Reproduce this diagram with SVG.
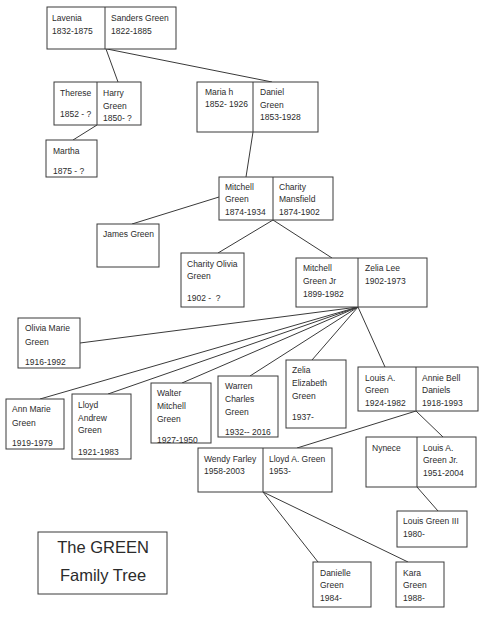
<svg xmlns="http://www.w3.org/2000/svg" width="495" height="629" viewBox="0 0 495 629">
<style>
  .box { fill: #ffffff; stroke: #3a3a3a; stroke-width: 1; }
  .div { stroke: #3a3a3a; stroke-width: 1; }
  .t { font-family: "Liberation Sans", Arial, sans-serif; font-size: 8.5px; fill: #2b2b2b; white-space: pre; }
  .title { font-family: "Liberation Sans", Arial, sans-serif; font-size: 16.5px; fill: #2b2b2b; text-anchor: middle; }
  .conn line { stroke: #3a3a3a; stroke-width: 1; }
</style>
<rect x="0" y="0" width="495" height="629" fill="#ffffff"/>
<g id="connectors" class="conn">
  <line x1="106" y1="49" x2="118" y2="82"/>
  <line x1="107" y1="49" x2="272" y2="82"/>
  <line x1="97" y1="125" x2="73" y2="140"/>
  <line x1="253" y1="132" x2="246" y2="177"/>
  <line x1="219" y1="197" x2="132" y2="224"/>
  <line x1="273" y1="220" x2="218" y2="253"/>
  <line x1="273" y1="220" x2="332" y2="258"/>
  <line x1="358" y1="307" x2="80" y2="343"/>
  <line x1="358" y1="307" x2="40" y2="399"/>
  <line x1="358" y1="307" x2="108" y2="394"/>
  <line x1="358" y1="307" x2="182" y2="383"/>
  <line x1="358" y1="307" x2="250" y2="376"/>
  <line x1="358" y1="307" x2="312" y2="360"/>
  <line x1="358" y1="307" x2="385" y2="367"/>
  <line x1="416" y1="411" x2="297" y2="448"/>
  <line x1="416" y1="411" x2="443" y2="437"/>
  <line x1="417" y1="487" x2="438" y2="511"/>
  <line x1="263" y1="492" x2="318" y2="562"/>
  <line x1="263" y1="492" x2="408" y2="562"/>
</g>
<g id="lavenia-sanders">
  <rect class="box" x="47" y="7" width="129" height="42"/>
  <line class="div" x1="105" y1="7" x2="105" y2="49"/>
  <text class="t" x="52" y="21">Lavenia</text>
  <text class="t" x="52" y="34">1832-1875</text>
  <text class="t" x="111" y="21">Sanders Green</text>
  <text class="t" x="111" y="34">1822-1885</text>
</g>
<g id="therese-harry">
  <rect class="box" x="54" y="82" width="87" height="43"/>
  <line class="div" x1="97" y1="82" x2="97" y2="125"/>
  <text class="t" x="60" y="96">Therese</text>
  <text class="t" x="60" y="117">1852 - ?</text>
  <text class="t" x="103" y="96">Harry</text>
  <text class="t" x="103" y="109">Green</text>
  <text class="t" x="103" y="121">1850- ?</text>
</g>
<g id="martha">
  <rect class="box" x="46" y="140" width="51" height="37"/>
  <text class="t" x="53" y="154">Martha</text>
  <text class="t" x="53" y="174">1875 - ?</text>
</g>
<g id="maria-daniel">
  <rect class="box" x="197" y="82" width="121" height="50"/>
  <line class="div" x1="253" y1="82" x2="253" y2="132"/>
  <text class="t" x="205" y="95">Maria h</text>
  <text class="t" x="205" y="107">1852- 1926</text>
  <text class="t" x="260" y="95">Daniel</text>
  <text class="t" x="260" y="108">Green</text>
  <text class="t" x="260" y="120">1853-1928</text>
</g>
<g id="mitchell-charity">
  <rect class="box" x="219" y="177" width="114" height="43"/>
  <line class="div" x1="273" y1="177" x2="273" y2="220"/>
  <text class="t" x="225" y="190">Mitchell</text>
  <text class="t" x="225" y="202">Green</text>
  <text class="t" x="225" y="215">1874-1934</text>
  <text class="t" x="279" y="190">Charity</text>
  <text class="t" x="279" y="202">Mansfield</text>
  <text class="t" x="279" y="215">1874-1902</text>
</g>
<g id="james-green">
  <rect class="box" x="97" y="224" width="62" height="43"/>
  <text class="t" x="103" y="237">James Green</text>
</g>
<g id="charity-olivia">
  <rect class="box" x="181" y="253" width="63" height="54"/>
  <text class="t" x="187" y="267">Charity Olivia</text>
  <text class="t" x="187" y="279">Green</text>
  <text class="t" x="187" y="301">1902 -  ?</text>
</g>
<g id="mitchelljr-zelia">
  <rect class="box" x="296" y="258" width="131" height="49"/>
  <line class="div" x1="358" y1="258" x2="358" y2="307"/>
  <text class="t" x="303" y="271">Mitchell</text>
  <text class="t" x="303" y="284">Green Jr</text>
  <text class="t" x="303" y="297">1899-1982</text>
  <text class="t" x="365" y="271">Zelia Lee</text>
  <text class="t" x="365" y="284">1902-1973</text>
</g>
<g id="olivia-marie">
  <rect class="box" x="18" y="318" width="62" height="50"/>
  <text class="t" x="25" y="331">Olivia Marie</text>
  <text class="t" x="25" y="345">Green</text>
  <text class="t" x="25" y="365">1916-1992</text>
</g>
<g id="ann-marie">
  <rect class="box" x="6" y="399" width="58" height="50"/>
  <text class="t" x="12" y="412">Ann Marie</text>
  <text class="t" x="12" y="426">Green</text>
  <text class="t" x="12" y="446">1919-1979</text>
</g>
<g id="lloyd-andrew">
  <rect class="box" x="72" y="394" width="59" height="65"/>
  <text class="t" x="78" y="408">Lloyd</text>
  <text class="t" x="78" y="421">Andrew</text>
  <text class="t" x="78" y="433">Green</text>
  <text class="t" x="78" y="455">1921-1983</text>
</g>
<g id="walter">
  <rect class="box" x="151" y="383" width="60" height="60"/>
  <text class="t" x="157" y="396">Walter</text>
  <text class="t" x="157" y="409">Mitchell</text>
  <text class="t" x="157" y="422">Green</text>
  <text class="t" x="157" y="443">1927-1950</text>
</g>
<g id="warren">
  <rect class="box" x="218" y="376" width="60" height="61"/>
  <text class="t" x="225" y="389">Warren</text>
  <text class="t" x="225" y="402">Charles</text>
  <text class="t" x="225" y="415">Green</text>
  <text class="t" x="225" y="435">1932-- 2016</text>
</g>
<g id="zelia-elizabeth">
  <rect class="box" x="286" y="360" width="60" height="68"/>
  <text class="t" x="292" y="373">Zelia</text>
  <text class="t" x="292" y="386">Elizabeth</text>
  <text class="t" x="292" y="399">Green</text>
  <text class="t" x="292" y="420">1937-</text>
</g>
<g id="louis-annie">
  <rect class="box" x="358" y="367" width="120" height="44"/>
  <line class="div" x1="416" y1="367" x2="416" y2="411"/>
  <text class="t" x="365" y="381">Louis A.</text>
  <text class="t" x="365" y="393">Green</text>
  <text class="t" x="365" y="406">1924-1982</text>
  <text class="t" x="422" y="381">Annie Bell</text>
  <text class="t" x="422" y="393">Daniels</text>
  <text class="t" x="422" y="406">1918-1993</text>
</g>
<g id="wendy-lloyd">
  <rect class="box" x="198" y="448" width="134" height="44"/>
  <line class="div" x1="263" y1="448" x2="263" y2="492"/>
  <text class="t" x="204" y="462">Wendy Farley</text>
  <text class="t" x="204" y="474">1958-2003</text>
  <text class="t" x="269" y="462">Lloyd A. Green</text>
  <text class="t" x="269" y="474">1953-</text>
</g>
<g id="nynece-louisjr">
  <rect class="box" x="366" y="437" width="110" height="50"/>
  <line class="div" x1="417" y1="437" x2="417" y2="487"/>
  <text class="t" x="372" y="451">Nynece</text>
  <text class="t" x="423" y="451">Louis A.</text>
  <text class="t" x="423" y="463">Green Jr.</text>
  <text class="t" x="423" y="476">1951-2004</text>
</g>
<g id="louis-green-iii">
  <rect class="box" x="397" y="511" width="70" height="36"/>
  <text class="t" x="403" y="524">Louis Green III</text>
  <text class="t" x="403" y="537">1980-</text>
</g>
<g id="danielle">
  <rect class="box" x="313" y="562" width="58" height="45"/>
  <text class="t" x="320" y="576">Danielle</text>
  <text class="t" x="320" y="588">Green</text>
  <text class="t" x="320" y="601">1984-</text>
</g>
<g id="kara">
  <rect class="box" x="396" y="562" width="48" height="45"/>
  <text class="t" x="403" y="576">Kara</text>
  <text class="t" x="403" y="588">Green</text>
  <text class="t" x="403" y="601">1988-</text>
</g>
<g id="title">
  <rect class="box" x="38" y="532" width="129" height="62"/>
  <text class="title" x="103" y="553">The GREEN</text>
  <text class="title" x="103" y="581">Family Tree</text>
</g>
</svg>
